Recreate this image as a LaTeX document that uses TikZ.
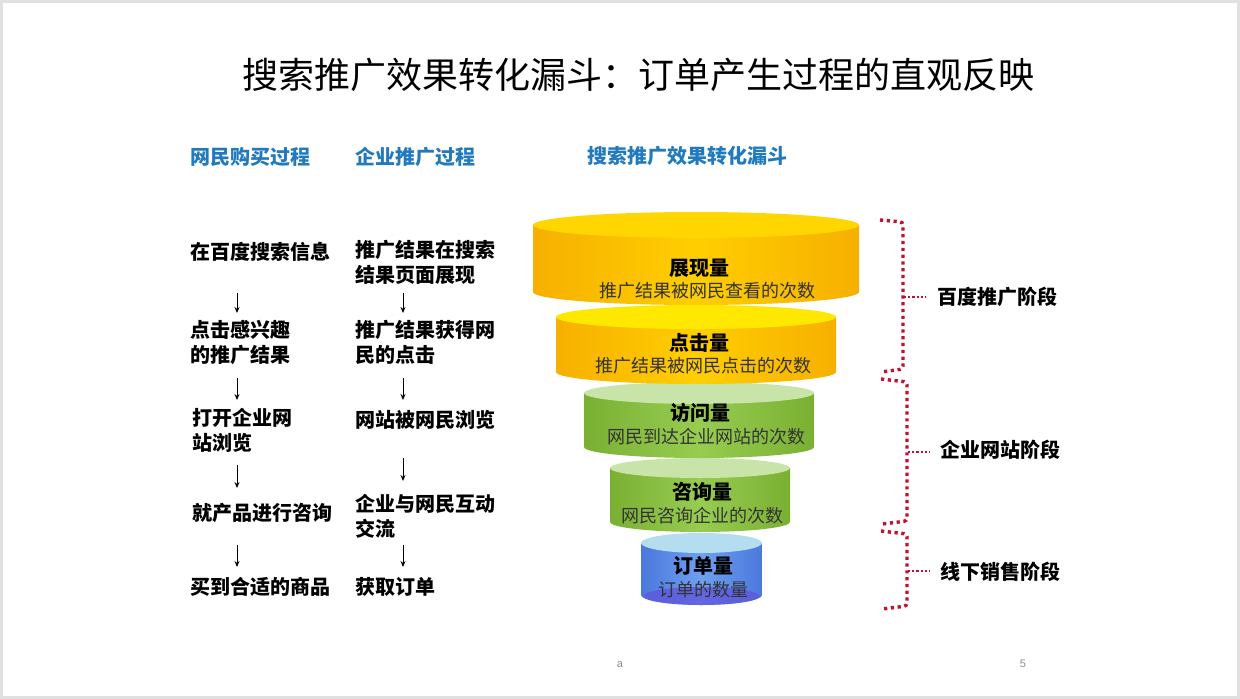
\documentclass[tikz,border=0pt]{standalone}
\usepackage{fontspec}
\setmainfont{Noto Sans CJK SC}
\newfontfamily\latinfont{Liberation Sans}
\usetikzlibrary{arrows.meta}
\definecolor{hdblue}{RGB}{34,122,190}
\definecolor{bracered}{RGB}{196,16,48}
\definecolor{yedge}{RGB}{246,176,0}
\definecolor{ymid}{RGB}{255,206,0}
\definecolor{ytop}{RGB}{255,214,0}
\definecolor{ytopb}{RGB}{255,232,0}
\definecolor{gedge}{RGB}{122,176,50}
\definecolor{gmid}{RGB}{150,204,80}
\definecolor{gtop}{RGB}{200,228,168}
\definecolor{bedge}{RGB}{74,120,220}
\definecolor{bmid}{RGB}{110,160,240}
\definecolor{btop}{RGB}{180,222,240}
\definecolor{bbot}{RGB}{96,84,220}
\newcommand{\mycyl}[8]{%
  \shade[left color=#6, right color=#6, middle color=#7]
    (#1-#4,-#2) -- (#1-#4,-#3)
    arc[start angle=180,end angle=360,x radius=#4,y radius=#5]
    -- (#1+#4,-#2) -- cycle;
  \fill[#8] (#1,-#2) ellipse[x radius=#4,y radius=#5];
}
\tikzset{
  itemtext/.style={anchor=west,inner sep=0pt,align=left,font=\fontsize{20}{25}\selectfont\bfseries},
  headtext/.style={anchor=west,inner sep=0pt,text=hdblue,font=\fontsize{20}{24}\selectfont\bfseries},
  cyltitle/.style={inner sep=0pt,font=\fontsize{20}{24}\selectfont\bfseries},
  cylsub/.style={inner sep=0pt,text=black!80,font=\fontsize{18}{22}\selectfont},
  stagetext/.style={anchor=west,inner sep=0pt,font=\fontsize{20}{24}\selectfont\bfseries},
  flowarrow/.style={line width=0.9pt,-{Stealth[length=6pt,width=5pt]}},
  bracedots/.style={bracered,line width=3.4pt,dash pattern=on 3.2pt off 3.6pt,rounded corners=3pt},
  bracetick/.style={bracered,line width=2.6pt,dash pattern=on 2.2pt off 2pt},
  pagetext/.style={inner sep=0pt,text=black!45,font=\latinfont\fontsize{11}{13}\selectfont}
}
\begin{document}
\begin{tikzpicture}[x=1pt,y=1pt]
\useasboundingbox (0,0) rectangle (1240,-699);
\fill[white] (0,0) rectangle (1240,-699);
\draw[black!12,line width=3pt] (1.5,-1.5) rectangle (1238.5,-697.5);

% title
\node[inner sep=0pt,font=\fontsize{36}{40}\selectfont] (title) at (638,-75) {搜索推广效果转化漏斗：订单产生过程的直观反映};

% headers
\node[headtext] (h1) at (190,-157) {网民购买过程};
\node[headtext] (h2) at (355,-157) {企业推广过程};
\node[headtext] (h3) at (587,-156) {搜索推广效果转化漏斗};

% column 1
\node[itemtext] (l1) at (190,-252) {在百度搜索信息};
\node[itemtext] (l2) at (190,-342.5) {点击感兴趣\\的推广结果};
\node[itemtext] (l3) at (192,-430) {打开企业网\\站浏览};
\node[itemtext] (l4) at (192,-513) {就产品进行咨询};
\node[itemtext] (l5) at (190,-587) {买到合适的商品};
\coordinate (a1s) at (237,-293); \coordinate (a1e) at (237,-313);
\coordinate (a2s) at (237,-378); \coordinate (a2e) at (237,-400);
\coordinate (a3s) at (237,-465); \coordinate (a3e) at (237,-488);
\coordinate (a4s) at (237,-545); \coordinate (a4e) at (237,-567);
\draw[flowarrow] (a1s) -- (a1e);
\draw[flowarrow] (a2s) -- (a2e);
\draw[flowarrow] (a3s) -- (a3e);
\draw[flowarrow] (a4s) -- (a4e);

% column 2
\node[itemtext] (r1) at (355,-262) {推广结果在搜索\\结果页面展现};
\node[itemtext] (r2) at (355,-342.5) {推广结果获得网\\民的点击};
\node[itemtext] (r3) at (355,-420) {网站被网民浏览};
\node[itemtext] (r4) at (355,-516.5) {企业与网民互动\\交流};
\node[itemtext] (r5) at (355,-587) {获取订单};
\coordinate (b1s) at (403,-293); \coordinate (b1e) at (403,-313);
\coordinate (b2s) at (403,-378); \coordinate (b2e) at (403,-400);
\coordinate (b3s) at (403,-458); \coordinate (b3e) at (403,-481);
\coordinate (b4s) at (403,-545); \coordinate (b4e) at (403,-567);
\draw[flowarrow] (b1s) -- (b1e);
\draw[flowarrow] (b2s) -- (b2e);
\draw[flowarrow] (b3s) -- (b3e);
\draw[flowarrow] (b4s) -- (b4e);

% funnel (bottom first)
\mycyl{701.5}{543}{595}{60.5}{10}{bedge}{bmid}{btop}
\fill[bbot,opacity=0.75] (701.5,-596) ellipse[x radius=58,y radius=9];
\mycyl{700}{468}{522}{90}{10}{gedge}{gmid}{gtop}
\mycyl{699}{393}{447}{115}{11}{gedge}{gmid}{gtop}
\mycyl{696}{317}{372}{140}{12}{yedge}{ymid}{ytopb}
\mycyl{696}{225}{292}{163}{13}{yedge}{ymid}{ytop}

\node[cyltitle] (f1t) at (699,-268) {展现量};
\node[cylsub]   (f1s) at (707,-291) {推广结果被网民查看的次数};
\node[cyltitle] (f2t) at (699,-343) {点击量};
\node[cylsub]   (f2s) at (703,-366) {推广结果被网民点击的次数};
\node[cyltitle] (f3t) at (700,-413) {访问量};
\node[cylsub]   (f3s) at (706,-437) {网民到达企业网站的次数};
\node[cyltitle] (f4t) at (702,-492) {咨询量};
\node[cylsub]   (f4s) at (702,-516) {网民咨询企业的次数};
\node[cyltitle] (f5t) at (703,-566) {订单量};
\node[cylsub]   (f5s) at (703,-590) {订单的数量};

% stage braces
\coordinate (s1a) at (880,-220); \coordinate (s1b) at (903,-222);
\coordinate (s1c) at (903,-369); \coordinate (s1d) at (881,-372);
\coordinate (s1m) at (904,-297); \coordinate (s1n) at (926,-297);
\draw[bracedots] (s1a) -- (s1b) -- (s1c) -- (s1d);
\draw[bracetick] (s1m) -- (s1n);
\node[stagetext] (s1) at (937,-297) {百度推广阶段};

\coordinate (s2a) at (881,-379); \coordinate (s2b) at (907,-382);
\coordinate (s2c) at (907,-521); \coordinate (s2d) at (882,-524);
\coordinate (s2m) at (908,-452); \coordinate (s2n) at (930,-452);
\draw[bracedots] (s2a) -- (s2b) -- (s2c) -- (s2d);
\draw[bracetick] (s2m) -- (s2n);
\node[stagetext] (s2) at (940,-450) {企业网站阶段};

\coordinate (s3a) at (881,-531); \coordinate (s3b) at (907,-534);
\coordinate (s3c) at (907,-606); \coordinate (s3d) at (882,-609);
\coordinate (s3m) at (908,-571); \coordinate (s3n) at (930,-571);
\draw[bracedots] (s3a) -- (s3b) -- (s3c) -- (s3d);
\draw[bracetick] (s3m) -- (s3n);
\node[stagetext] (s3) at (940,-572) {线下销售阶段};

% page marks
\node[pagetext] (pa) at (620,-665) {a};
\node[pagetext] (pn) at (1023,-664) {5};
\end{tikzpicture}
\end{document}
